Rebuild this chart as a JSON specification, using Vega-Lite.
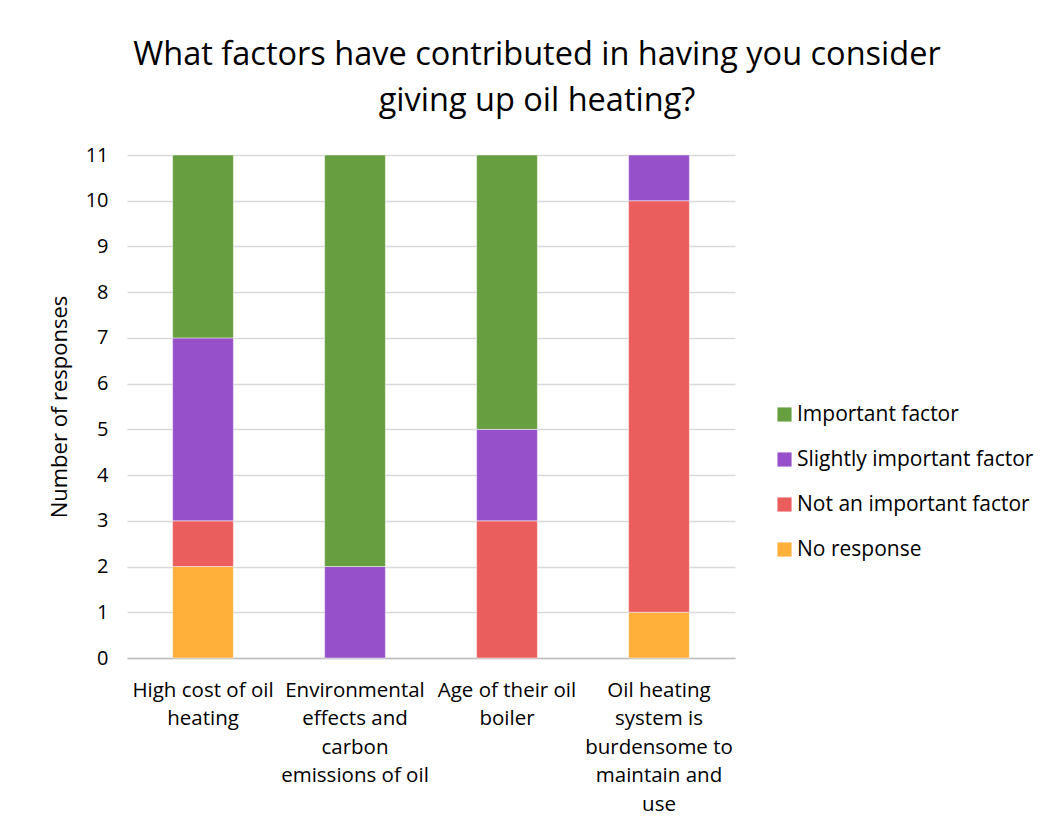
{
  "$schema": "https://vega.github.io/schema/vega-lite/v6.json",
  "width": 608,
  "height": 503,
  "autosize": {"type": "none"},
  "padding": {"left": 127, "top": 155, "right": 318, "bottom": 170},
  "background": "white",
  "title": {
    "text": ["What factors have contributed in having you consider", "giving up oil heating?"],
    "font": "Open Sans",
    "fontSize": 32.5,
    "fontWeight": "normal",
    "color": "#000000",
    "anchor": "middle",
    "dx": 106,
    "offset": 28,
    "lineHeight": 46
  },
  "data": {
    "values": [
      {"factor": "High cost of oil heating", "response": "No response", "rating": 0, "count": 2},
      {"factor": "High cost of oil heating", "response": "Not an important factor", "rating": 1, "count": 1},
      {"factor": "High cost of oil heating", "response": "Slightly important factor", "rating": 2, "count": 4},
      {"factor": "High cost of oil heating", "response": "Important factor", "rating": 3, "count": 4},
      {"factor": "Environmental effects and carbon emissions of oil", "response": "Slightly important factor", "rating": 2, "count": 2},
      {"factor": "Environmental effects and carbon emissions of oil", "response": "Important factor", "rating": 3, "count": 9},
      {"factor": "Age of their oil boiler", "response": "Not an important factor", "rating": 1, "count": 3},
      {"factor": "Age of their oil boiler", "response": "Slightly important factor", "rating": 2, "count": 2},
      {"factor": "Age of their oil boiler", "response": "Important factor", "rating": 3, "count": 6},
      {"factor": "Oil heating system is burdensome to maintain and use", "response": "No response", "rating": 0, "count": 1},
      {"factor": "Oil heating system is burdensome to maintain and use", "response": "Not an important factor", "rating": 1, "count": 9},
      {"factor": "Oil heating system is burdensome to maintain and use", "response": "Slightly important factor", "rating": 2, "count": 1}
    ]
  },
  "mark": {"type": "bar", "stroke": "white", "strokeWidth": 0.8, "strokeOpacity": 0.6},
  "encoding": {
    "x": {
      "field": "factor",
      "type": "nominal",
      "sort": null,
      "scale": {"paddingInner": 0.6, "paddingOuter": 0.3},
      "axis": {
        "title": null,
        "labelAngle": 0,
        "labelFont": "Open Sans",
        "labelFontSize": 20.5,
        "labelColor": "#000000",
        "labelLineHeight": 28.5,
        "labelPadding": 22,
        "labelLimit": 220,
        "ticks": false,
        "domainColor": "#BFBFBF",
        "domainWidth": 1.5,
        "labelExpr": "({'High cost of oil heating': ['High cost of oil', 'heating'], 'Environmental effects and carbon emissions of oil': ['Environmental', 'effects and', 'carbon', 'emissions of oil'], 'Age of their oil boiler': ['Age of their oil', 'boiler'], 'Oil heating system is burdensome to maintain and use': ['Oil heating', 'system is', 'burdensome to', 'maintain and', 'use']})[datum.value]"
      }
    },
    "y": {
      "field": "count",
      "type": "quantitative",
      "aggregate": "sum",
      "scale": {"domain": [0, 11], "nice": false},
      "axis": {
        "title": "Number of responses",
        "titleFont": "Open Sans",
        "titleFontSize": 22,
        "titleFontWeight": "normal",
        "titleColor": "#000000",
        "titlePadding": 14,
        "values": [0, 1, 2, 3, 4, 5, 6, 7, 8, 9, 10, 11],
        "labelFont": "Open Sans",
        "labelFontSize": 20,
        "labelColor": "#000000",
        "labelPadding": 19,
        "ticks": false,
        "domain": false,
        "gridColor": "#D9D9D9",
        "gridWidth": 1.5
      }
    },
    "color": {
      "field": "response",
      "type": "nominal",
      "scale": {
        "domain": ["Important factor", "Slightly important factor", "Not an important factor", "No response"],
        "range": ["#669E40", "#9550CA", "#EA5E5E", "#FFB03B"]
      },
      "legend": {
        "title": null,
        "orient": "none",
        "legendX": 647,
        "legendY": 249,
        "symbolType": "square",
        "symbolSize": 200,
        "symbolStrokeWidth": 0,
        "labelFont": "Open Sans",
        "labelFontSize": 21,
        "labelColor": "#000000",
        "labelOffset": 2,
        "labelLimit": 300,
        "rowPadding": 23
      }
    },
    "order": {"field": "rating", "type": "quantitative", "sort": "ascending"}
  },
  "config": {
    "view": {"stroke": null},
    "axisX": {"grid": false}
  }
}
